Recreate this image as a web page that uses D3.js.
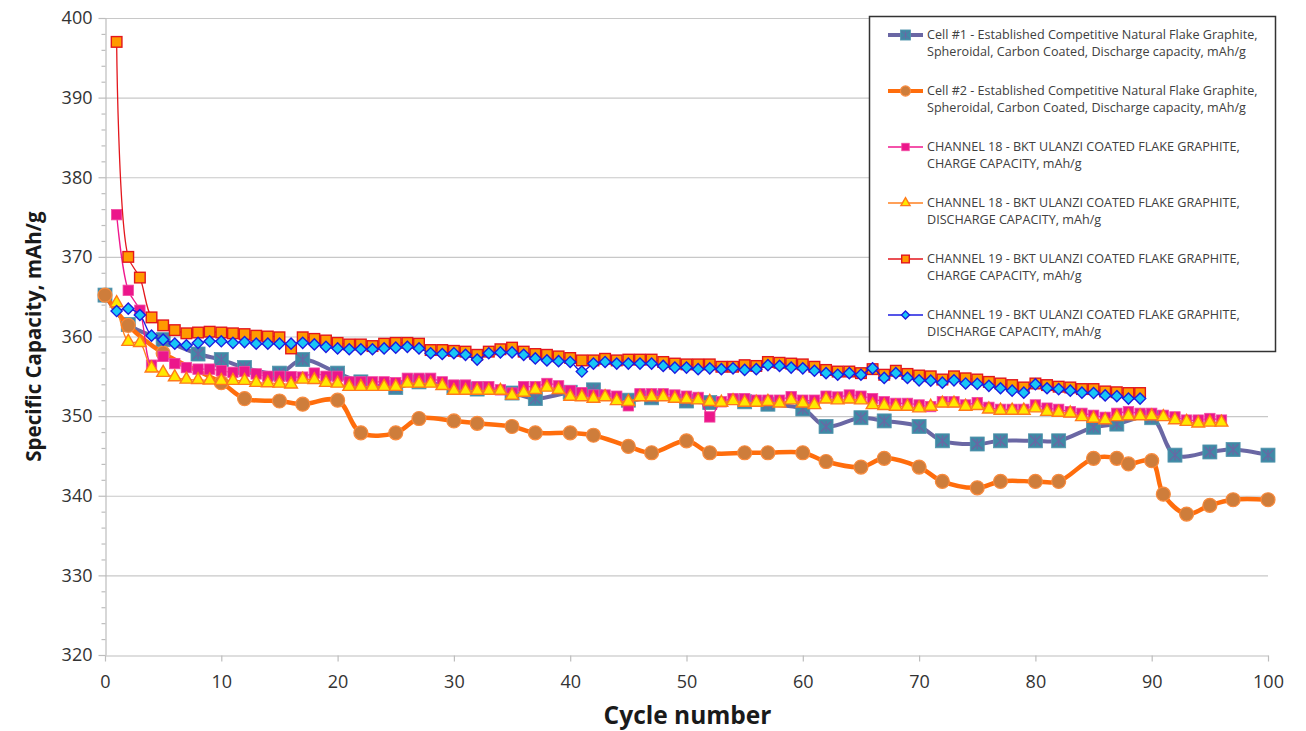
<!DOCTYPE html>
<html>
<head>
<meta charset="utf-8">
<script src="https://cdn.jsdelivr.net/npm/d3@7"></script>
<style>
  html, body { margin: 0; padding: 0; background: #fff; }
  svg { display: block; font-family: "Open Sans", "Noto Sans", sans-serif; }
</style>
</head>
<body>
<svg id="chart" width="1306" height="731"></svg>
<script>
// ---------------- DATA ----------------
const xTicks = [0, 10, 20, 30, 40, 50, 60, 70, 80, 90, 100];
const yTicks = [320, 330, 340, 350, 360, 370, 380, 390, 400];

const seriesNames = [
  ["Cell #1 - Established Competitive Natural Flake Graphite,", "Spheroidal, Carbon Coated, Discharge capacity, mAh/g"],
  ["Cell #2 - Established Competitive Natural Flake Graphite,", "Spheroidal, Carbon Coated, Discharge capacity, mAh/g"],
  ["CHANNEL 18 - BKT ULANZI COATED FLAKE GRAPHITE,", "CHARGE CAPACITY, mAh/g"],
  ["CHANNEL 18 - BKT ULANZI COATED FLAKE GRAPHITE,", "DISCHARGE CAPACITY, mAh/g"],
  ["CHANNEL 19 - BKT ULANZI COATED FLAKE GRAPHITE,", "CHARGE CAPACITY, mAh/g"],
  ["CHANNEL 19 - BKT ULANZI COATED FLAKE GRAPHITE,", "DISCHARGE CAPACITY, mAh/g"]
];

// Cell #1 : cycles and values
const cell1Cycles = [0, 2, 5, 8, 10, 12, 15, 17, 20, 22, 25, 27, 30, 32, 35, 37, 40, 42, 45, 47, 50, 52, 55, 57, 60, 62, 65, 67, 70, 72, 75, 77, 80, 82, 85, 87, 90, 92, 95, 97, 100];
const cell1Values = [365.2, 361.5, 359.6, 357.8, 357.1, 356.1, 355.4, 357.1, 355.4, 354.3, 353.6, 354.3, 353.6, 353.4, 352.9, 352.2, 353.0, 353.3, 352.0, 352.3, 351.9, 351.7, 351.8, 351.5, 350.9, 348.7, 349.8, 349.4, 348.7, 346.9, 346.5, 346.9, 346.9, 346.9, 348.6, 349.0, 349.8, 345.1, 345.5, 345.8, 345.1];

// Cell #2 : cycles and values
const cell2Cycles = [0, 2, 5, 10, 12, 15, 17, 20, 22, 25, 27, 30, 32, 35, 37, 40, 42, 45, 47, 50, 52, 55, 57, 60, 62, 65, 67, 70, 72, 75, 77, 80, 82, 85, 87, 88, 90, 91, 93, 95, 97, 100];
const cell2Values = [365.2, 361.4, 357.9, 354.2, 352.2, 351.9, 351.5, 352.0, 347.9, 347.9, 349.7, 349.4, 349.1, 348.7, 347.9, 347.9, 347.6, 346.2, 345.4, 346.9, 345.4, 345.4, 345.4, 345.4, 344.3, 343.6, 344.7, 343.6, 341.8, 341.0, 341.8, 341.8, 341.8, 344.7, 344.7, 344.0, 344.4, 340.2, 337.7, 338.8, 339.5, 339.5];

// Channel 18 charge, cycles 1..96
const ch18Charge = [
  375.3, 365.8, 363.3, 356.4, 357.5, 356.6, 356.1, 355.9, 355.9, 355.7,
  355.5, 355.6, 355.3, 355.0, 355.0, 354.95, 354.9, 355.4, 355.0, 355.0,
  354.3, 354.3, 354.3, 354.3, 354.2, 354.75, 354.75, 354.75, 354.3, 353.9,
  353.9, 353.7, 353.7, 353.3, 352.9, 353.7, 353.7, 354.1, 353.8, 353.2,
  352.95, 352.65, 352.65, 352.5, 351.3, 352.8, 352.8, 352.8, 352.65, 352.5,
  352.35, 349.9, 351.8, 352.2, 352.2, 352.0, 352.0, 352.0, 352.45, 352.0,
  352.0, 352.5, 352.4, 352.65, 352.5, 352.2, 351.8, 351.6, 351.6, 351.4,
  351.2, 351.8, 351.8, 351.4, 351.7, 351.1, 350.85, 350.85, 350.85, 351.4,
  351.0, 350.85, 350.55, 350.35, 350.1, 349.85, 350.35, 350.55, 350.35, 350.35,
  350.1, 349.9, 349.5, 349.5, 349.7, 349.5
];

// Channel 18 discharge, cycles 1..96
const ch18Discharge = [
  364.2, 359.35, 359.2, 356.0, 355.45, 354.9, 354.6, 354.55, 354.5, 354.45,
  354.45, 354.45, 354.2, 354.15, 354.1, 354.0, 354.6, 354.55, 354.2, 354.1,
  353.7, 353.7, 353.7, 353.7, 353.7, 354.1, 354.1, 354.1, 353.8, 353.2,
  353.2, 353.2, 353.2, 353.2, 352.6, 352.95, 353.3, 353.6, 353.3, 352.45,
  352.4, 352.2, 352.4, 351.9, 351.8, 352.4, 352.4, 352.4, 352.2, 352.1,
  352.0, 351.8, 351.7, 351.9, 351.7, 351.7, 351.8, 351.6, 352.0, 351.6,
  351.4, 352.1, 352.0, 352.1, 352.0, 351.4, 351.3, 351.2, 351.2, 351.0,
  351.2, 351.6, 351.6, 351.2, 351.3, 350.85, 350.7, 350.7, 350.7, 351.0,
  350.55, 350.45, 350.35, 349.9, 349.7, 349.5, 349.9, 350.0, 350.0, 350.0,
  349.9, 349.5, 349.3, 349.1, 349.2, 349.2
];

// Channel 19 charge, cycles 1..89
const ch19Charge = [
  397.0, 370.0, 367.4, 362.4, 361.4, 360.8, 360.4, 360.5, 360.6, 360.5,
  360.4, 360.3, 360.1, 360.0, 359.9, 358.5, 359.9, 359.7, 359.5, 359.2,
  359.0, 359.0, 358.8, 359.1, 359.2, 359.2, 359.1, 358.3, 358.3, 358.2,
  358.1, 357.7, 358.1, 358.4, 358.6, 358.1, 357.8, 357.7, 357.5, 357.3,
  357.0, 357.0, 357.2, 357.0, 357.1, 357.1, 357.1, 356.8, 356.6, 356.5,
  356.5, 356.5, 356.2, 356.2, 356.4, 356.3, 356.8, 356.7, 356.6, 356.5,
  356.2, 355.8, 355.6, 355.6, 355.4, 355.9, 355.2, 355.7, 355.3, 355.1,
  355.0, 354.6, 355.0, 354.75, 354.6, 354.3, 354.1, 353.9, 353.6, 354.1,
  353.9, 353.7, 353.6, 353.4, 353.4, 353.1, 353.0, 352.9, 352.9
];

// Channel 19 discharge, cycles 1..89
const ch19Discharge = [
  363.2, 363.5, 362.7, 360.1, 359.6, 359.1, 358.9, 359.2, 359.4, 359.4,
  359.2, 359.3, 359.1, 359.1, 359.1, 359.1, 359.2, 359.0, 358.7, 358.5,
  358.4, 358.4, 358.4, 358.5, 358.6, 358.7, 358.5, 357.9, 357.8, 357.9,
  357.7, 357.1, 357.9, 358.0, 358.0, 357.7, 357.25, 357.0, 356.9, 356.8,
  355.6, 356.6, 356.8, 356.6, 356.6, 356.6, 356.6, 356.3, 356.1, 356.1,
  355.9, 356.0, 355.9, 356.0, 355.8, 355.9, 356.4, 356.3, 356.1, 356.0,
  355.7, 355.4, 355.2, 355.4, 355.2, 356.0, 354.8, 355.4, 354.8, 354.5,
  354.45, 354.2, 354.5, 354.1, 354.05, 353.8, 353.5, 353.2, 352.95, 354.0,
  353.5, 353.4, 353.2, 352.95, 352.9, 352.6, 352.5, 352.2, 352.2
];

// ---------------- BUILD ----------------
const pts = (cycles, vals) => vals.map((v, i) => ({ x: cycles[i], y: v }));
const seq = vals => vals.map((v, i) => ({ x: i + 1, y: v }));

const series = [
  { name: seriesNames[0], data: pts(cell1Cycles, cell1Values), line: "#6a67a4", lw: 4, marker: "cell1" },
  { name: seriesNames[1], data: pts(cell2Cycles, cell2Values), line: "#ff6d0c", lw: 4.5, marker: "cell2" },
  { name: seriesNames[2], data: seq(ch18Charge), line: "#f0188e", lw: 1.3, marker: "ch18c" },
  { name: seriesNames[3], data: seq(ch18Discharge), line: "#ff8020", lw: 1.3, marker: "ch18d" },
  { name: seriesNames[4], data: seq(ch19Charge), line: "#e3161c", lw: 1.3, marker: "ch19c" },
  { name: seriesNames[5], data: seq(ch19Discharge), line: "#1c1ce0", lw: 1.3, marker: "ch19d" }
];

const svg = d3.select("#chart");
const pLeft = 105, pRight = 1268, pTop = 18, pBottom = 655;
const x = d3.scaleLinear().domain([0, 100]).range([pLeft, pRight]);
const y = d3.scaleLinear().domain([320, 400]).range([pBottom, pTop]);

// gridlines
svg.append("g").selectAll("line").data(yTicks.filter(t => t > 320)).join("line")
  .attr("x1", pLeft).attr("x2", pRight)
  .attr("y1", d => y(d) + 0.5).attr("y2", d => y(d) + 0.5)
  .attr("stroke", "#c8c8c8").attr("stroke-width", 1.2);

// Y axis (major)
const yAxis = svg.append("g").attr("transform", `translate(${pLeft + 0.5},0)`)
  .call(d3.axisLeft(y).tickValues(yTicks).tickSize(7).tickPadding(6).tickSizeOuter(0));
yAxis.select(".domain").attr("stroke", "#bdbdbd").attr("stroke-width", 1.2);
yAxis.selectAll(".tick line").attr("stroke", "#bdbdbd").attr("stroke-width", 1.2);
yAxis.selectAll(".tick text").attr("font-size", 18).attr("fill", "#333")
  .attr("font-family", "'Open Sans', sans-serif");

// Y minor ticks
const yMinor = svg.append("g").attr("transform", `translate(${pLeft + 0.5},0)`)
  .call(d3.axisLeft(y).tickValues(d3.range(320, 401, 2).filter(v => v % 10 !== 0)).tickSize(4).tickFormat(""));
yMinor.select(".domain").remove();
yMinor.selectAll(".tick line").attr("stroke", "#bdbdbd").attr("stroke-width", 1.2);

// X axis
const xAxis = svg.append("g").attr("transform", `translate(0,${pBottom + 0.5})`)
  .call(d3.axisBottom(x).tickValues(xTicks).tickSize(6).tickSizeOuter(0));
xAxis.select(".domain").attr("stroke", "#bdbdbd").attr("stroke-width", 1.2);
xAxis.selectAll(".tick line").attr("stroke", "#bdbdbd").attr("stroke-width", 1.2);
xAxis.selectAll(".tick text").attr("font-size", 18).attr("fill", "#333").attr("y", 20)
  .attr("font-family", "'Open Sans', sans-serif");

// Axis titles
svg.append("text")
  .attr("transform", `translate(41,${(pTop + pBottom) / 2}) rotate(-90)`)
  .attr("text-anchor", "middle").attr("font-size", 20.5).attr("font-weight", "bold")
  .attr("fill", "#1a1a1a").text("Specific Capacity, mAh/g");
svg.append("text")
  .attr("x", (pLeft + pRight) / 2 + 1).attr("y", 724)
  .attr("text-anchor", "middle").attr("font-size", 24.5).attr("font-weight", "bold")
  .attr("fill", "#1a1a1a").text("Cycle number");

// marker drawing
function drawMarker(g, type, scale) {
  const s = scale || 1;
  if (type === "cell1") {
    const h = 7 * s;
    g.append("rect").attr("x", -h).attr("y", -h).attr("width", 2 * h).attr("height", 2 * h)
      .attr("fill", "#3f8aa6").attr("stroke", "#5496ad").attr("stroke-width", 0.8);
    const k = h * 0.75;
    g.append("path").attr("d", `M${-k},${-k}L${k},${k}M${-k},${k}L${k},${-k}M0,${-k}L0,${k}`)
      .attr("stroke", "#6a67a4").attr("stroke-width", 1.3 * s).attr("fill", "none");
  } else if (type === "cell2") {
    g.append("circle").attr("r", 7 * s).attr("fill", "#ce7d3b").attr("stroke", "#f98a3c").attr("stroke-width", 1.2);
  } else if (type === "ch18c") {
    const h = 5.2 * s;
    g.append("rect").attr("x", -h).attr("y", -h).attr("width", 2 * h).attr("height", 2 * h)
      .attr("fill", "#ec168b").attr("stroke", "#f24aa2").attr("stroke-width", 0.8);
  } else if (type === "ch18d") {
    g.append("path").attr("d", d3.symbol(d3.symbolTriangle, 70 * s * s)())
      .attr("fill", "#ffe800").attr("stroke", "#ff7a1a").attr("stroke-width", 1.4);
  } else if (type === "ch19c") {
    const h = 5.3 * s;
    g.append("rect").attr("x", -h).attr("y", -h).attr("width", 2 * h).attr("height", 2 * h)
      .attr("fill", "#ff9a00").attr("stroke", "#e3161c").attr("stroke-width", 1.4);
  } else if (type === "ch19d") {
    const h = 5.6 * s;
    g.append("path").attr("d", `M0,${-h}L${h},0L0,${h}L${-h},0Z`)
      .attr("fill", "#18c6f6").attr("stroke", "#1c1ce0").attr("stroke-width", 1.4);
  }
}

const lineGen = d3.line().x(d => x(d.x)).y(d => y(d.y)).curve(d3.curveCatmullRom.alpha(0.5));

series.forEach(s => {
  const g = svg.append("g");
  g.append("path").datum(s.data).attr("d", lineGen)
    .attr("fill", "none").attr("stroke", s.line).attr("stroke-width", s.lw)
    .attr("stroke-linejoin", "round").attr("stroke-linecap", "round");
  g.selectAll("g.m").data(s.data).join("g").attr("class", "m")
    .attr("transform", d => `translate(${x(d.x)},${y(d.y)})`)
    .each(function () { drawMarker(d3.select(this), s.marker, 1); });
});

// Legend
const lg = svg.append("g");
lg.append("rect").attr("x", 869.5).attr("y", 16.5).attr("width", 406).attr("height", 335)
  .attr("fill", "#fff").attr("stroke", "#333").attr("stroke-width", 1.5);
series.forEach((s, i) => {
  const cy = 35 + i * 56;
  const e = lg.append("g");
  e.append("line").attr("x1", 888).attr("x2", 923).attr("y1", cy).attr("y2", cy)
    .attr("stroke", s.line).attr("stroke-width", s.lw > 2 ? 4 : 1.5);
  const m = e.append("g").attr("transform", `translate(905.5,${cy})`);
  drawMarker(m, s.marker, 0.72);
  s.name.forEach((t, j) => {
    e.append("text").attr("x", 927).attr("y", cy + j * 17).attr("dy", "0.35em")
      .attr("font-size", 12.6).attr("fill", "#404040").text(t);
  });
});
</script>
</body>
</html>
